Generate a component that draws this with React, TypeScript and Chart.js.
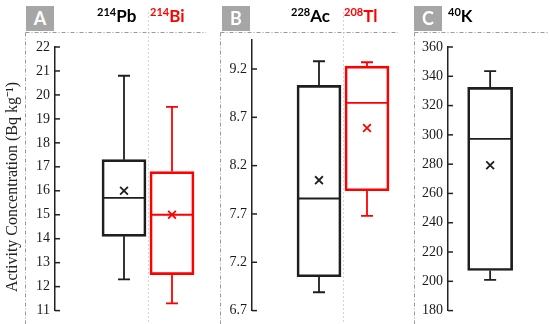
import React, { useEffect, useRef } from 'react';
import { Chart, registerables } from 'chart.js';

Chart.register(...registerables);

// ---------- DATA ----------
// Panel A
const aCategories = ['214Pb', '214Bi'];
const aMin = [12.3, 11.3];
const aQ1 = [14.1, 12.5];
const aMedian = [15.7, 15.0];
const aQ3 = [17.3, 16.8];
const aMax = [20.8, 19.5];
const aMean = [16.0, 15.0];
const aTicks = [11, 12, 13, 14, 15, 16, 17, 18, 19, 20, 21, 22];

// Panel B
const bCategories = ['228Ac', '208Tl'];
const bMin = [6.89, 7.68];
const bQ1 = [7.05, 7.94];
const bMedian = [7.86, 8.85];
const bQ3 = [9.03, 9.23];
const bMax = [9.28, 9.27];
const bMean = [8.05, 8.59];
const bTicks = [6.7, 7.2, 7.7, 8.2, 8.7, 9.2];

// Panel C
const cCategories = ['40K'];
const cMin = [201];
const cQ1 = [207.4];
const cMedian = [297.3];
const cQ3 = [332.4];
const cMax = [343.5];
const cMean = [279.2];
const cTicks = [180, 200, 220, 240, 260, 280, 300, 320, 340, 360];

const BLACK = '#1e1e1e';
const RED = '#ff0000';
const Y_TITLE = 'Activity Concentration (Bq kg\u207B\u00B9)';
const SERIF = "'Liberation Serif', 'Times New Roman', serif";

type Panel = {
  key: string;
  left: number;
  width: number;
  categories: string[];
  min: number[];
  q1: number[];
  median: number[];
  q3: number[];
  max: number[];
  mean: number[];
  colors: string[];
  ticks: number[];
  yMin: number;
  yMax: number;
  decimals: number;
  xMin: number;
  xMax: number;
  axisWidth: number;
  padTop: number;
  padBottom: number;
  padRight: number;
  boxWidth: number;
};

const panels: Panel[] = [
  {
    key: 'A', left: 0, width: 218,
    categories: aCategories, min: aMin, q1: aQ1, median: aMedian, q3: aQ3, max: aMax, mean: aMean,
    colors: [BLACK, RED], ticks: aTicks, yMin: 11, yMax: 22, decimals: 0,
    xMin: -1.4375, xMax: 1.6875, axisWidth: 55, padTop: 47, padBottom: 12, padRight: 13,
    boxWidth: 44,
  },
  {
    key: 'B', left: 218, width: 194,
    categories: bCategories, min: bMin, q1: bQ1, median: bMedian, q3: bQ3, max: bMax, mean: bMean,
    colors: [BLACK, RED], ticks: bTicks, yMin: 6.7, yMax: 9.5, decimals: 1,
    xMin: -1.396, xMax: 1.646, axisWidth: 34, padTop: 40, padBottom: 11, padRight: 14,
    boxWidth: 44,
  },
  {
    key: 'C', left: 412, width: 138,
    categories: cCategories, min: cMin, q1: cQ1, median: cMedian, q3: cQ3, max: cMax, mean: cMean,
    colors: [BLACK], ticks: cTicks, yMin: 180, yMax: 360, decimals: 0,
    xMin: -0.927, xMax: 1.156, axisWidth: 36, padTop: 47, padBottom: 12, padRight: 2,
    boxWidth: 45,
  },
];

function makeBoxPlugin(p: Panel) {
  return {
    id: 'boxWhiskers' + p.key,
    beforeDatasetsDraw(chart: any) {
      const { ctx } = chart;
      const xs = chart.scales.x;
      ctx.save();
      ctx.strokeStyle = '#d4d4d4';
      ctx.lineWidth = 1;
      ctx.setLineDash([2, 2]);
      for (let i = 0; i < p.categories.length - 1; i++) {
        const xx = Math.round(xs.getPixelForValue(i + 0.5)) + 0.5;
        ctx.beginPath();
        ctx.moveTo(xx, 12);
        ctx.lineTo(xx, chart.height);
        ctx.stroke();
      }
      ctx.restore();
    },
    afterDatasetsDraw(chart: any) {
      const { ctx } = chart;
      const xs = chart.scales.x;
      const ys = chart.scales.y;
      ctx.save();
      ctx.lineWidth = 1.8;
      const half = p.boxWidth / 2;
      const cap = 6;
      p.categories.forEach((_, i) => {
        const cx = xs.getPixelForValue(i);
        ctx.strokeStyle = p.colors[i];
        const yMed = ys.getPixelForValue(p.median[i]);
        const yQ1 = ys.getPixelForValue(p.q1[i]);
        const yQ3 = ys.getPixelForValue(p.q3[i]);
        const yMx = ys.getPixelForValue(p.max[i]);
        const yMn = ys.getPixelForValue(p.min[i]);
        ctx.beginPath();
        ctx.moveTo(cx - half + 1, yMed);
        ctx.lineTo(cx + half - 1, yMed);
        ctx.moveTo(cx, yQ3);
        ctx.lineTo(cx, yMx);
        ctx.moveTo(cx - cap, yMx);
        ctx.lineTo(cx + cap, yMx);
        ctx.moveTo(cx, yQ1);
        ctx.lineTo(cx, yMn);
        ctx.moveTo(cx - cap, yMn);
        ctx.lineTo(cx + cap, yMn);
        ctx.stroke();
      });
      ctx.strokeStyle = '#222';
      ctx.lineWidth = 1.5;
      ys.ticks.forEach((t: any) => {
        const yy = ys.getPixelForValue(t.value);
        ctx.beginPath();
        ctx.moveTo(ys.right, yy);
        ctx.lineTo(ys.right + 5, yy);
        ctx.stroke();
      });
      ctx.restore();
    },
  };
}

function BoxPanel({ p }: { p: Panel }) {
  const ref = useRef<HTMLCanvasElement | null>(null);
  useEffect(() => {
    if (!ref.current) return;
    const chart = new Chart(ref.current, {
      type: 'bar',
      data: {
        datasets: [
          {
            type: 'line',
            label: 'mean',
            data: p.categories.map((_, i) => ({ x: i, y: p.mean[i] })),
            showLine: false,
            pointStyle: 'crossRot',
            pointRadius: 5.5,
            pointBorderWidth: 1.8,
            pointBorderColor: p.colors,
            pointBackgroundColor: p.colors,
            borderColor: p.colors,
            order: 0,
          } as any,
          {
            type: 'bar',
            label: 'box',
            data: p.categories.map((_, i) => ({ x: i, y: [p.q1[i], p.q3[i]] })),
            backgroundColor: 'rgba(255,255,255,0)',
            borderColor: p.colors,
            borderWidth: 2,
            borderSkipped: false,
            barThickness: p.boxWidth,
            order: 1,
          } as any,
        ],
      },
      options: {
        animation: false,
        responsive: false,
        maintainAspectRatio: false,
        layout: { padding: { top: p.padTop, bottom: p.padBottom, left: 0, right: p.padRight } },
        plugins: { legend: { display: false }, tooltip: { enabled: false } },
        scales: {
          x: { type: 'linear', min: p.xMin, max: p.xMax, display: false, offset: false },
          y: {
            type: 'linear',
            position: 'left',
            min: p.yMin,
            max: p.yMax,
            afterFit: (s: any) => { s.width = p.axisWidth; },
            afterBuildTicks: (s: any) => { s.ticks = p.ticks.map((v) => ({ value: v })); },
            ticks: {
              padding: 5,
              color: '#1a1a1a',
              font: { family: SERIF, size: 14 },
              callback: (v: any) => Number(v).toFixed(p.decimals),
            },
            grid: { display: false, drawTicks: false, tickLength: 0 },
            border: { display: true, color: '#222', width: 1.5 },
            title: { display: false },
          },
        },
      } as any,
      plugins: [makeBoxPlugin(p)],
    });
    return () => chart.destroy();
  }, [p]);
  return (
    <canvas
      ref={ref}
      width={p.width}
      height={324}
      style={{ position: 'absolute', left: p.left, top: 0, width: p.width, height: 324, display: 'block' }}
    />
  );
}

const labelBoxes = [
  { text: 'A', left: 26 },
  { text: 'B', left: 222 },
  { text: 'C', left: 414 },
];

const titles = [
  { sup: '214', main: 'Pb', color: '#000', left: 97 },
  { sup: '214', main: 'Bi', color: RED, left: 150 },
  { sup: '228', main: 'Ac', color: '#000', left: 291 },
  { sup: '208', main: 'Tl', color: RED, left: 344 },
  { sup: '40', main: 'K', color: '#000', left: 448 },
];

const frames = [
  { x1: 25.5, x2: 206 },
  { x1: 220.5, x2: 398 },
  { x1: 414.5, x2: 548 },
];

export default function App() {
  return (
    <div style={{ position: 'absolute', left: 0, top: 0, width: 550, height: 324, background: '#fff', overflow: 'hidden' }}>
      {panels.map((p) => (
        <BoxPanel key={p.key} p={p} />
      ))}
      <svg width={550} height={324} style={{ position: 'absolute', left: 0, top: 0, pointerEvents: 'none' }}>
        {frames.map((f, i) => (
          <g key={i} stroke="#9a9a9a" strokeWidth={1} strokeDasharray="4 2 1 2" fill="none">
            <line x1={f.x1} y1={32.5} x2={f.x2} y2={32.5} />
            <line x1={f.x1} y1={32.5} x2={f.x1} y2={324} />
          </g>
        ))}
      </svg>
      <div
        style={{
          position: 'absolute', left: 12 - 140, top: 187 - 10, width: 280, height: 20,
          lineHeight: '20px', textAlign: 'center', transform: 'rotate(-90deg)',
          fontFamily: SERIF, fontSize: 16, color: '#222', whiteSpace: 'nowrap',
        }}
      >
        {Y_TITLE}
      </div>
      {labelBoxes.map((b) => (
        <div
          key={b.text}
          style={{
            position: 'absolute', left: b.left, top: 6, width: 28, height: 25,
            background: '#a6a6a6', color: '#fff', fontFamily: 'Lato, sans-serif', fontWeight: 700,
            fontSize: 18, lineHeight: '25px', textAlign: 'center',
          }}
        >
          {b.text}
        </div>
      ))}
      {titles.map((t, i) => (
        <div
          key={i}
          style={{
            position: 'absolute', left: t.left, top: 6, whiteSpace: 'nowrap', color: t.color,
            fontFamily: 'Lato, sans-serif', fontWeight: 700, fontSize: 17, lineHeight: '20px',
          }}
        >
          <span style={{ fontSize: 11, position: 'relative', top: -6 }}>{t.sup}</span>
          {t.main}
        </div>
      ))}
    </div>
  );
}
